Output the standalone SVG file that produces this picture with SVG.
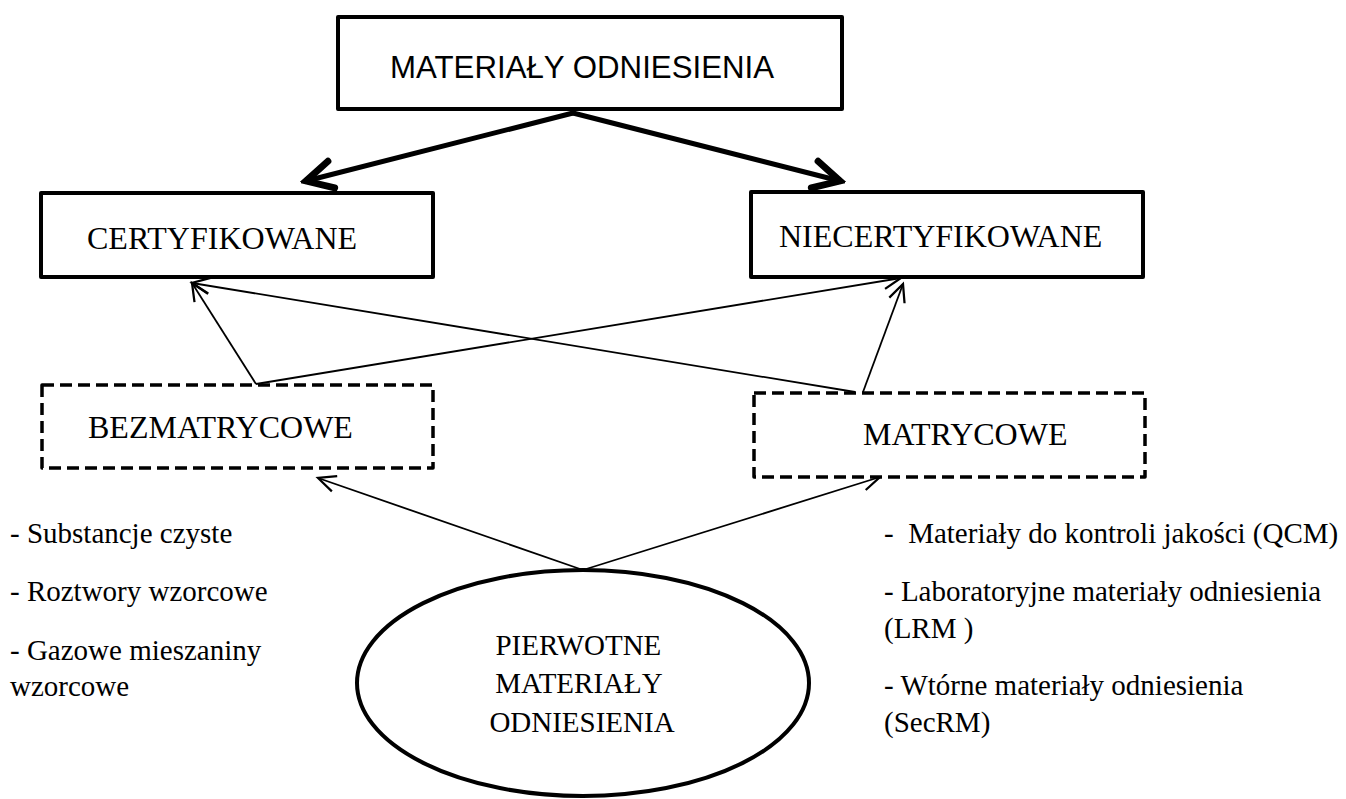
<svg xmlns="http://www.w3.org/2000/svg" width="1346" height="799" viewBox="0 0 1346 799">
<style>
  .box { fill: #fff; stroke: #000; stroke-width: 4; stroke-linejoin: round; }
  .dbox { fill: #fff; stroke: #000; stroke-width: 3.5; stroke-dasharray: 12 6; stroke-linejoin: round; }
  .serif { font-family: "Liberation Serif", "Times New Roman", serif; fill: #000; }
  .sans { font-family: "Liberation Sans", Arial, sans-serif; fill: #000; }
  .thick { fill: none; stroke: #000; stroke-width: 5; stroke-linecap: round; }
  .thin { fill: none; stroke: #000; stroke-width: 1.8; }
</style>
<defs>
  <marker id="headThick" markerUnits="userSpaceOnUse" markerWidth="44" markerHeight="44" viewBox="-28 -16 32 32" refX="0" refY="0" orient="auto">
    <path d="M -19 -10 L 0 0 L -19 10" fill="none" stroke="#000" stroke-width="5" stroke-linecap="round" stroke-linejoin="miter"/>
  </marker>
  <marker id="headThin" markerUnits="userSpaceOnUse" markerWidth="30" markerHeight="30" viewBox="-20 -12 24 24" refX="0" refY="0" orient="auto">
    <path d="M -14 -6.5 L 0 0 L -14 6.5" fill="none" stroke="#000" stroke-width="1.8"/>
  </marker>
</defs>

<g id="connectors">
  <line class="thick" x1="573" y1="113" x2="306" y2="181" marker-end="url(#headThick)"/>
  <line class="thick" x1="573" y1="113" x2="840" y2="181" marker-end="url(#headThick)"/>
  <line class="thin" x1="256" y1="384" x2="192" y2="283" marker-end="url(#headThin)"/>
  <line class="thin" x1="256" y1="384" x2="901" y2="278" marker-end="url(#headThin)"/>
  <line class="thin" x1="855" y1="392" x2="192" y2="283" marker-end="url(#headThin)"/>
  <line class="thin" x1="863" y1="392" x2="903" y2="284" marker-end="url(#headThin)"/>
  <line class="thin" x1="583" y1="570" x2="318" y2="478" marker-end="url(#headThin)"/>
  <line class="thin" x1="583" y1="570" x2="880" y2="477" marker-end="url(#headThin)"/>
</g>

<g id="node-materialy">
  <rect class="box" x="338" y="17" width="504" height="92"/>
  <text class="sans" x="390" y="78" font-size="32" textLength="384" lengthAdjust="spacingAndGlyphs">MATERIAŁY ODNIESIENIA</text>
</g>

<g id="node-certyfikowane">
  <rect class="box" x="41" y="193" width="392" height="84" stroke-width="3.5"/>
  <text class="serif" x="87" y="249" font-size="32">CERTYFIKOWANE</text>
</g>

<g id="node-niecertyfikowane">
  <rect class="box" x="751" y="192" width="392" height="85" stroke-width="3.5"/>
  <text class="serif" x="779" y="247" font-size="32">NIECERTYFIKOWANE</text>
</g>

<g id="node-bezmatrycowe">
  <rect class="dbox" x="42" y="385" width="391" height="83"/>
  <text class="serif" x="88" y="438" font-size="32">BEZMATRYCOWE</text>
</g>

<g id="node-matrycowe">
  <rect class="dbox" x="754" y="393" width="391" height="84"/>
  <text class="serif" x="863" y="445" font-size="32">MATRYCOWE</text>
</g>

<g id="node-pierwotne">
  <ellipse cx="583" cy="683" rx="226" ry="113" fill="#fff" stroke="#000" stroke-width="4"/>
  <text class="serif" font-size="29" text-anchor="middle">
    <tspan x="582" y="655">PIERWOTNE</tspan>
    <tspan x="582" y="693">MATERIAŁY</tspan>
    <tspan x="582" y="732">ODNIESIENIA</tspan>
  </text>
</g>

<g id="list-bezmatrycowe">
  <text class="serif" font-size="29">
    <tspan x="10" y="543">- Substancje czyste</tspan>
    <tspan x="10" y="601">- Roztwory wzorcowe</tspan>
    <tspan x="10" y="660">- Gazowe mieszaniny</tspan>
    <tspan x="10" y="696">wzorcowe</tspan>
  </text>
</g>

<g id="list-matrycowe">
  <text class="serif" font-size="29" style="white-space:pre">
    <tspan x="884" y="543">-  Materiały do kontroli jakości (QCM)</tspan>
    <tspan x="884" y="601">- Laboratoryjne materiały odniesienia</tspan>
    <tspan x="884" y="638">(LRM )</tspan>
    <tspan x="884" y="695">- Wtórne materiały odniesienia</tspan>
    <tspan x="884" y="732">(SecRM)</tspan>
  </text>
</g>
</svg>
